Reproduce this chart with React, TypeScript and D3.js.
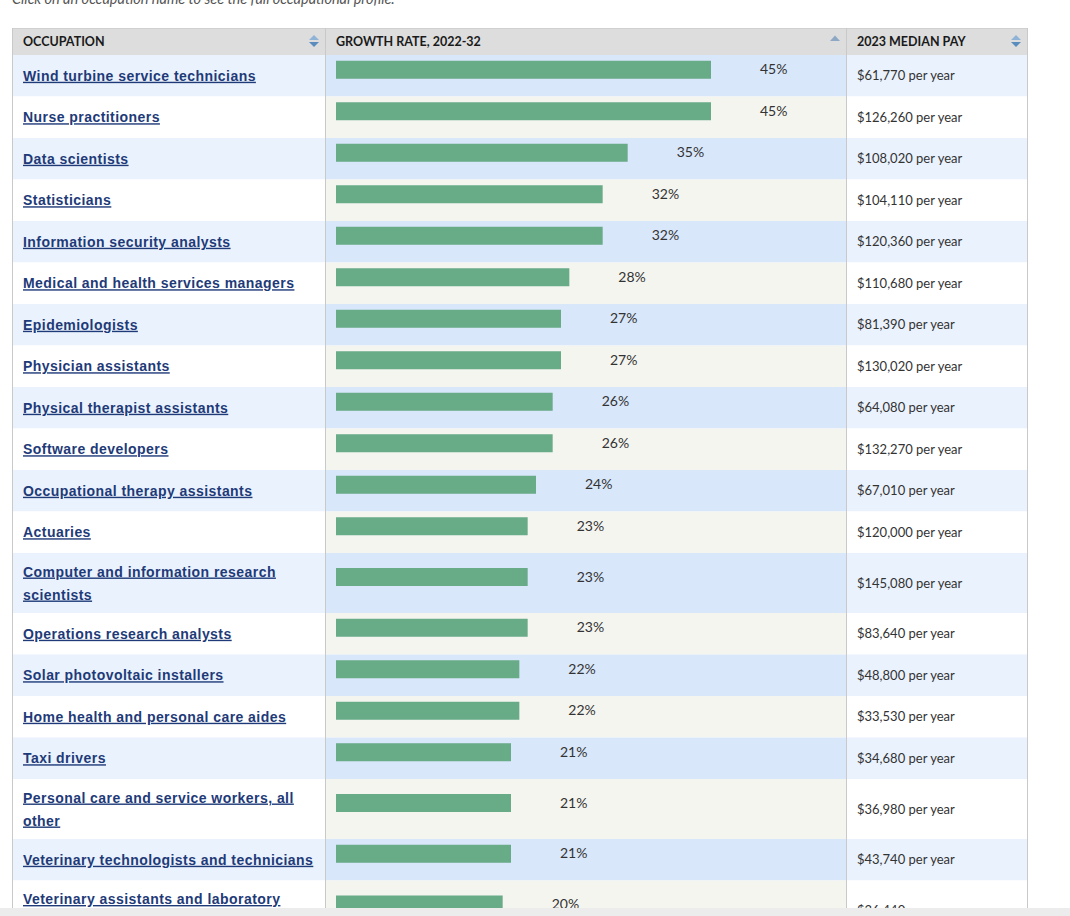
import React from "react";
import * as d3 from "d3";

const occupations = [
  "Wind turbine service technicians",
  "Nurse practitioners",
  "Data scientists",
  "Statisticians",
  "Information security analysts",
  "Medical and health services managers",
  "Epidemiologists",
  "Physician assistants",
  "Physical therapist assistants",
  "Software developers",
  "Occupational therapy assistants",
  "Actuaries",
  "Computer and information research scientists",
  "Operations research analysts",
  "Solar photovoltaic installers",
  "Home health and personal care aides",
  "Taxi drivers",
  "Personal care and service workers, all other",
  "Veterinary technologists and technicians",
  "Veterinary assistants and laboratory animal caretakers",
];
const growthRate = [45, 45, 35, 32, 32, 28, 27, 27, 26, 26, 24, 23, 23, 23, 22, 22, 21, 21, 21, 20];
const medianPay = [61770, 126260, 108020, 104110, 120360, 110680, 81390, 130020, 64080, 132270, 67010, 120000, 145080, 83640, 48800, 33530, 34680, 36980, 43740, 36440];
const headers = ["OCCUPATION", "GROWTH RATE, 2022-32", "2023 MEDIAN PAY"];
const introText = "Click on an occupation name to see the full occupational profile.";

const W = 1070;
const H = 916;
const colX = [12, 325, 846, 1027];
const headerTop = 28;
const headerBottom = 55;
const LINK_FONT = "bold 14px 'Liberation Sans', Arial, sans-serif";
const LINK_LS = 0.45;
const MAX_LINK_W = 294;

function measure(text: string): number {
  const c = document.createElement("canvas");
  const ctx = c.getContext("2d")!;
  ctx.font = LINK_FONT;
  return ctx.measureText(text).width + text.length * LINK_LS;
}

function wrap(text: string): string[] {
  const words = text.split(" ");
  const lines: string[] = [];
  let cur = "";
  for (const w of words) {
    const test = cur ? cur + " " + w : w;
    if (measure(test) > MAX_LINK_W && cur) {
      lines.push(cur);
      cur = w;
    } else cur = test;
  }
  if (cur) lines.push(cur);
  return lines;
}

export default function App() {
  const wrapped = occupations.map(wrap);
  const heights = wrapped.map((l) => (l.length > 1 ? 60 : 41.5));
  const tops: number[] = [];
  let acc = headerBottom;
  heights.forEach((h) => {
    tops.push(acc);
    acc += h;
  });

  const x = d3.scaleLinear().domain([0, 45]).range([0, 375]);
  const barX0 = 336;
  const fmtPay = (v: number) => d3.format("$,")(v) + " per year";

  const navy = "#1e3a78";
  const sans = "Lato, 'Open Sans', sans-serif";

  return (
    <svg
      width={W}
      height={H}
      style={{ position: "fixed", left: 0, top: 0, background: "#fff" }}
    >
      <text x={12} y={4} fontFamily={sans} fontStyle="italic" fontSize={14.5} fill="#555">
        {introText}
      </text>

      {/* header */}
      <rect x={colX[0]} y={headerTop} width={colX[3] - colX[0]} height={headerBottom - headerTop} fill="#dddddd" />
      <line x1={colX[0]} x2={colX[3]} y1={headerTop + 0.5} y2={headerTop + 0.5} stroke="#d0d0d0" />
      {headers.map((h, i) => (
        <text key={h} x={colX[i] + 11} y={45.5} fontFamily={sans} fontWeight={700} fontSize={12.5} fill="#1a1a1a">
          {h}
        </text>
      ))}
      {[colX[1] - 11, colX[3] - 11].map((cx, i) => (
        <g key={i}>
          <path d={`M${cx - 5},${40} L${cx + 5},${40} L${cx},${35} Z`} fill="#8fb3d6" />
          <path d={`M${cx - 5},${42} L${cx + 5},${42} L${cx},${47} Z`} fill="#5b8cc0" />
        </g>
      ))}
      <path d={`M${830},${41} L${840},${41} L${835},${35.5} Z`} fill="#8ea7c4" />

      {/* rows */}
      {occupations.map((o, i) => {
        const top = tops[i];
        const h = heights[i];
        const odd = i % 2 === 0;
        const cy = top + h / 2;
        const lines = wrapped[i];
        const barTop = cy - 15;
        return (
          <g key={o}>
            <rect x={colX[0]} y={top} width={colX[1] - colX[0]} height={h} fill={odd ? "#eaf2fd" : "#ffffff"} />
            <rect x={colX[1]} y={top} width={colX[2] - colX[1]} height={h} fill={odd ? "#d9e7fb" : "#f5f5f0"} />
            <rect x={colX[2]} y={top} width={colX[3] - colX[2]} height={h} fill={odd ? "#eaf2fd" : "#ffffff"} />
            {lines.map((ln, j) => (
              <text
                key={j}
                x={23}
                y={cy + 5 + (j - (lines.length - 1) / 2) * 23}
                fontFamily="'Liberation Sans', Arial, sans-serif"
                fontWeight={700}
                fontSize={14}
                letterSpacing={LINK_LS}
                fill={navy}
                textDecoration="underline"
              >
                {ln}
              </text>
            ))}
            <rect x={barX0} y={barTop} width={x(growthRate[i])} height={18} fill="#67ab87" />
            <text
              x={barX0 + x(growthRate[i]) + 49}
              y={barTop + 13.5}
              fontFamily={sans}
              fontSize={14}
              fill="#333"
            >
              {growthRate[i]}%
            </text>
            <text x={colX[2] + 11} y={cy + 4.5} fontFamily={sans} fontSize={13} fill="#333">
              {fmtPay(medianPay[i])}
            </text>
          </g>
        );
      })}

      {/* borders */}
      {colX.map((cx, i) => (
        <line key={i} x1={cx + 0.5} x2={cx + 0.5} y1={headerTop} y2={H} stroke="#c9c9c9" />
      ))}

      <rect x={0} y={908} width={W} height={H - 908} fill="#ececec" />
    </svg>
  );
}
